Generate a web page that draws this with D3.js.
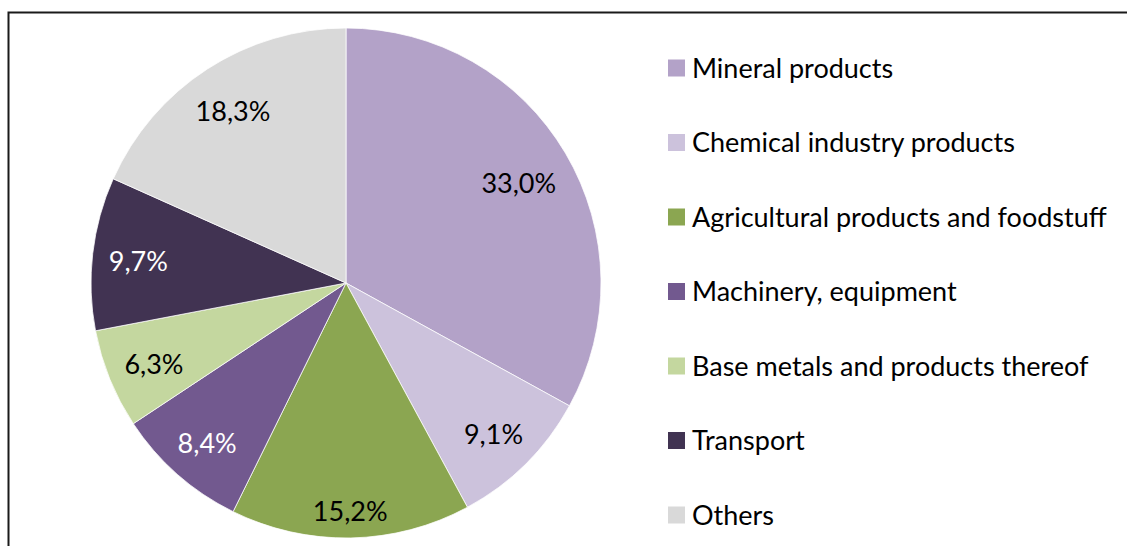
<!DOCTYPE html>
<html><head><meta charset="utf-8">
<script src="https://cdn.jsdelivr.net/npm/d3@7"></script>
<style>body{margin:0;background:#fff}svg{display:block}</style>
</head><body>
<svg id="c" width="1127" height="546"></svg>
<script>
const categories = ["Mineral products","Chemical industry products","Agricultural products and foodstuff","Machinery, equipment","Base metals and products thereof","Transport","Others"];
const values = [33.0, 9.1, 15.2, 8.4, 6.3, 9.7, 18.3];
const labels = ["33,0%","9,1%","15,2%","8,4%","6,3%","9,7%","18,3%"];
const colors = ["#B3A2C8","#CCC2DC","#8BA651","#72598F","#C4D79F","#413352","#D9D9D9"];
const labelColors = ["#000","#000","#000","#fff","#000","#fff","#000"];

const svg = d3.select("#c");
const font = "Lato, 'Open Sans', sans-serif";
const fs = 27;
// frame
svg.append("path").attr("d","M8.5,546 L8.5,12.5 L1127,12.5").attr("fill","none").attr("stroke","#1a1a1a").attr("stroke-width",2);

const cx = 346, cy = 283, R = 255;
const g = svg.append("g").attr("transform",`translate(${cx},${cy})`);
const pie = d3.pie().sort(null).value(d=>d)(values);
const arc = d3.arc().innerRadius(0).outerRadius(R);
g.selectAll("path").data(pie).join("path").attr("d",arc)
  .attr("fill",(d,i)=>colors[i]).attr("stroke","#fff").attr("stroke-width",0.75);
const txt = g.selectAll("text").data(pie).join("text")
  .attr("text-anchor","middle").attr("dy","0.46em")
  .attr("font-family",font).attr("font-size",fs)
  .attr("fill",(d,i)=>labelColors[i]).text((d,i)=>labels[i]);
// best-fit style: keep the label box a fixed margin inside the rim
txt.each(function(d){
  const a = (d.startAngle + d.endAngle)/2;
  const hw = this.getComputedTextLength()/2, hh = 14;
  const proj = hw*Math.abs(Math.sin(a)) + hh*Math.abs(Math.cos(a));
  const r = R - 15 - proj;
  d3.select(this).attr("transform",`translate(${r*Math.sin(a)},${-r*Math.cos(a)})`);
});

const y = d3.scalePoint().domain(categories).range([68,515]);
const leg = svg.append("g");
categories.forEach((c,i)=>{
  leg.append("rect").attr("x",668).attr("y",y(c)-8.5).attr("width",17).attr("height",17).attr("fill",colors[i]);
  leg.append("text").attr("x",692).attr("y",y(c)).attr("dy","0.36em")
    .attr("font-family",font).attr("font-size",fs).attr("fill","#000").text(c);
});
</script>
</body></html>
